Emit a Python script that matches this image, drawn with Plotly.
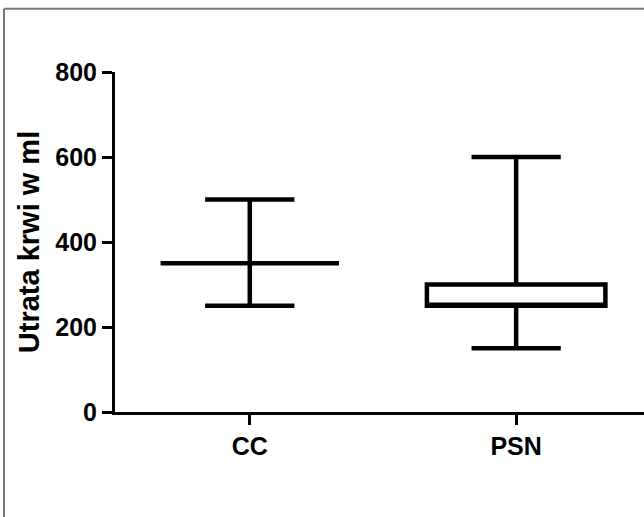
import plotly.graph_objects as go

categories = ["CC", "PSN"]
lower_whisker = [250, 150]
q1_values = [350, 250]
median_values = [350, 250]
q3_values = [350, 300]
upper_whisker = [500, 600]
y_ticks = [0, 200, 400, 600, 800]

fig = go.Figure()
fig.add_trace(go.Box(
    x=[0, 1],
    q1=q1_values, median=median_values, q3=q3_values,
    lowerfence=lower_whisker, upperfence=upper_whisker,
    fillcolor="white",
    line=dict(color="black", width=4.5),
    width=0.67,
    whiskerwidth=0.5,
    boxpoints=False,
    hoverinfo="skip",
    showlegend=False,
))

font_fam = "Liberation Sans, Arial, sans-serif"
fig.update_layout(
    width=644, height=517,
    margin=dict(l=115, r=0, t=72, b=105),
    paper_bgcolor="white", plot_bgcolor="white",
    showlegend=False,
    xaxis=dict(
        range=[-0.506, 1.48],
        tickmode="array", tickvals=[0, 1], ticktext=categories,
        showline=True, linecolor="black", linewidth=3,
        ticks="outside", ticklen=10, tickwidth=3, tickcolor="black",
        showgrid=False, zeroline=False,
        tickfont=dict(family=font_fam, size=25, color="black", weight="bold"),
    ),
    yaxis=dict(
        range=[0, 800],
        tickmode="array", tickvals=y_ticks, ticktext=[str(v) for v in y_ticks],
        showline=True, linecolor="black", linewidth=3,
        ticks="outside", ticklen=10, tickwidth=3, tickcolor="black",
        showgrid=False, zeroline=False,
        tickfont=dict(family=font_fam, size=25, color="black", weight="bold"),
        title=dict(text="Utrata krwi w ml", standoff=8,
                   font=dict(family=font_fam, size=29, color="black", weight="bold")),
    ),
)

# thin grey frame around the picture (top and left edges visible)
fx = -111 / 529
fy_top = (411 - 9) / 339
fy_bot = (411 - 517) / 339
fig.add_shape(type="line", xref="paper", yref="paper",
              x0=fx, x1=1.0, y0=fy_top, y1=fy_top,
              line=dict(color="#777777", width=2))
fig.add_shape(type="line", xref="paper", yref="paper",
              x0=fx, x1=fx, y0=fy_top, y1=fy_bot,
              line=dict(color="#777777", width=2))

fig.write_html("out.html", config={"displayModeBar": False},
               post_script="document.body.style.margin='0';")
